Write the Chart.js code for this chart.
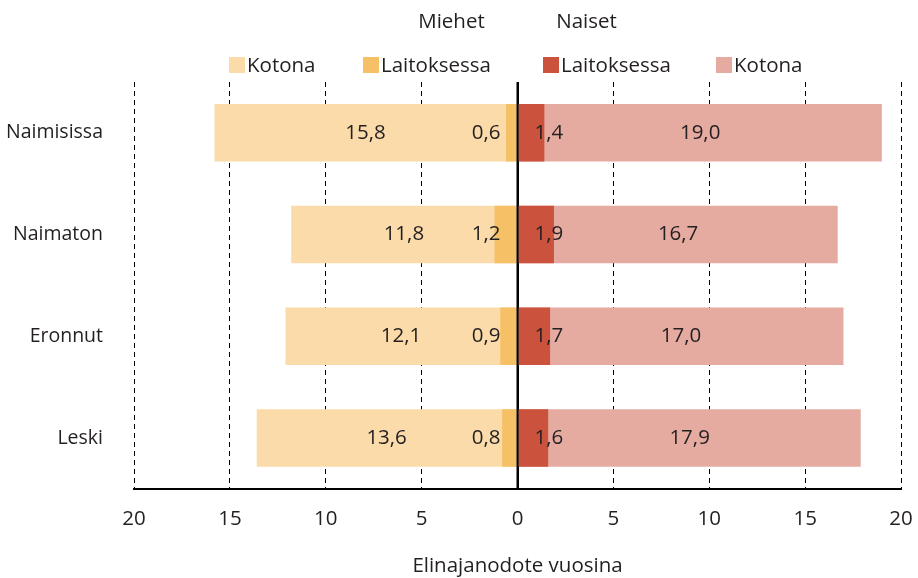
<!DOCTYPE html>
<html>
<head>
<meta charset="utf-8">
<script src="https://cdn.jsdelivr.net/npm/chart.js@4"></script>
<style>
  html, body { margin: 0; padding: 0; background: #fff; }
  #wrap { width: 918px; height: 578px; }
</style>
</head>
<body>
<div id="wrap"><canvas id="elinajanodote"></canvas></div>
<script>
const categories = ['Naimisissa', 'Naimaton', 'Eronnut', 'Leski'];
const miehetKotona = [15.8, 11.8, 12.1, 13.6];
const miehetLaitoksessa = [0.6, 1.2, 0.9, 0.8];
const naisetLaitoksessa = [1.4, 1.9, 1.7, 1.6];
const naisetKotona = [19.0, 16.7, 17.0, 17.9];
const groupTitles = ['Miehet', 'Naiset'];

const FONT = '"Open Sans", Lato, sans-serif';
const SIZE = 20.5;
const INK = '#231f20';

const fmt = v => Math.abs(v).toFixed(1).replace('.', ',');

// zero line over the bars, values on the bars, legend row and group headers
const barText = {
  id: 'barText',
  afterDatasetsDraw(chart) {
    const { ctx, chartArea } = chart;
    const x0 = chart.scales.x.getPixelForValue(0);
    ctx.save();
    ctx.strokeStyle = '#000';
    ctx.lineWidth = 2;
    ctx.beginPath();
    ctx.moveTo(x0, chartArea.top);
    ctx.lineTo(x0, chartArea.bottom);
    ctx.stroke();

    ctx.font = SIZE + 'px ' + FONT;
    ctx.fillStyle = INK;
    ctx.textBaseline = 'middle';
    chart.data.datasets.forEach((ds, i) => {
      const meta = chart.getDatasetMeta(i);
      meta.data.forEach((bar, j) => {
        const text = fmt(ds.data[j]);
        if (ds.kind === 'kotona') {
          ctx.textAlign = 'center';
          ctx.fillText(text, (bar.x + bar.base) / 2, bar.y);
        } else if (ds.data[j] < 0) {
          ctx.textAlign = 'right';
          ctx.fillText(text, bar.base - 16, bar.y);
        } else {
          ctx.textAlign = 'left';
          ctx.fillText(text, bar.base + 16, bar.y);
        }
      });
    });
    ctx.restore();
  },
  afterDraw(chart, args, opts) {
    const { ctx } = chart;
    const x0 = chart.scales.x.getPixelForValue(0);
    ctx.save();
    ctx.font = SIZE + 'px ' + FONT;
    ctx.fillStyle = INK;
    ctx.textBaseline = 'middle';
    ctx.textAlign = 'center';
    ctx.fillText(groupTitles[0], x0 - 66, 22);
    ctx.fillText(groupTitles[1], x0 + 69, 22);
    ctx.textAlign = 'left';
    chart.data.datasets.forEach((ds, i) => {
      const left = opts.itemX[i];
      ctx.fillStyle = ds.backgroundColor;
      ctx.fillRect(left, 57, 16, 16);
      ctx.fillStyle = INK;
      ctx.fillText(ds.label, left + 18, 66);
    });
    ctx.restore();
  }
};

new Chart(document.getElementById('elinajanodote'), {
  type: 'bar',
  data: {
    labels: categories,
    datasets: [{
      label: 'Kotona',
      kind: 'kotona',
      data: miehetKotona.map(v => -v),
      backgroundColor: '#fadba9',
      order: 1
    }, {
      label: 'Laitoksessa',
      kind: 'laitos',
      data: miehetLaitoksessa.map(v => -v),
      backgroundColor: '#f6c066',
      order: 0
    }, {
      label: 'Laitoksessa',
      kind: 'laitos',
      data: naisetLaitoksessa,
      backgroundColor: '#cb523d',
      order: 0
    }, {
      label: 'Kotona',
      kind: 'kotona',
      data: naisetKotona,
      backgroundColor: '#e5aba0',
      order: 1
    }]
  },
  options: {
    indexAxis: 'y',
    responsive: true,
    maintainAspectRatio: false,
    animation: false,
    datasets: {
      bar: {
        grouped: false,
        barPercentage: 0.565,
        categoryPercentage: 1
      }
    },
    layout: {
      padding: { top: 82, right: 0, bottom: 0, left: 0 }
    },
    scales: {
      x: {
        min: -20,
        max: 20,
        ticks: {
          stepSize: 5,
          padding: 18,
          color: INK,
          font: { family: FONT, size: SIZE },
          callback: v => Math.abs(v)
        },
        grid: {
          drawTicks: false,
          color: '#000',
          lineWidth: c => (c.tick && c.tick.value === 0 ? 2 : 1)
        },
        border: {
          display: true,
          color: '#000',
          width: 2,
          dash: c => (c.tick && c.tick.value !== 0 ? [5, 4] : [])
        },
        title: {
          display: true,
          text: 'Elinajanodote vuosina',
          color: INK,
          font: { family: FONT, size: SIZE },
          padding: { top: 4, bottom: 0 }
        },
        afterFit: scale => {
          scale.paddingLeft = 0;
          scale.paddingRight = 17;
        }
      },
      y: {
        ticks: {
          padding: 31,
          color: INK,
          font: { family: FONT, size: 19.5 }
        },
        grid: { display: false, drawTicks: false },
        border: { display: false },
        afterFit: scale => { scale.width = 134; }
      }
    },
    plugins: {
      legend: { display: false },
      tooltip: { enabled: false },
      barText: { itemX: [229, 363, 543, 716] }
    }
  },
  plugins: [barText]
});
</script>
</body>
</html>
